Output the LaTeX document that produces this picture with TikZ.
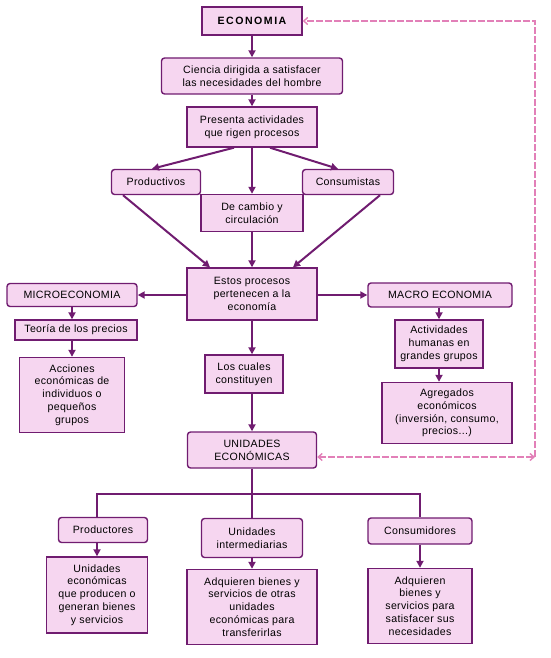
\documentclass[tikz,border=0pt]{standalone}
\usepackage{fontspec}
\setmainfont{Liberation Sans}
\usetikzlibrary{arrows.meta}
\definecolor{morado}{RGB}{112,28,112}
\definecolor{rosafondo}{RGB}{246,214,240}
\definecolor{rosalinea}{RGB}{226,128,184}
\tikzset{every picture/.style={line width=0.75pt}}
\tikzset{
	caja/.style={draw=morado, fill=rosafondo, line width=1.4pt, align=center, inner sep=1pt, font={\fontsize{10.6}{12.8}\selectfont\addfontfeature{LetterSpace=3}}},
	cajar/.style={caja, rounded corners=3pt},
	flecha/.style={draw=morado, line width=2pt, -{Triangle[length=7pt,width=7pt]}},
	rama/.style={draw=morado, line width=1.2pt},
	retorno/.style={draw=rosalinea, line width=1.4pt, dash pattern=on 7pt off 2pt, {Straight Barb[length=4pt,width=7pt]}-{Straight Barb[length=4pt,width=7pt]}}
}

\begin{document}
\begin{tikzpicture}[x=1pt,y=1pt,yscale=-1,xscale=1]
	\useasboundingbox (0,0) rectangle (550,658);
	
	% Nodes
	\node[caja, minimum width=100pt, minimum height=28pt] (eco) at (252,21) {\bfseries\addfontfeature{LetterSpace=14}ECONOMIA};
	\node[cajar, minimum width=181pt, minimum height=36pt] (cien) at (252,76) {Ciencia dirigida a satisfacer\\las necesidades del hombre};
	\node[caja, minimum width=130pt, minimum height=40pt] (pres) at (252,127) {Presenta actividades\\que rigen procesos};
	\node[cajar, minimum width=89pt, minimum height=25pt] (prod) at (156,182) {Productivos};
	\node[cajar, minimum width=91pt, minimum height=25pt] (cons) at (348,182) {Consumistas};
	\node[caja, minimum width=102pt, minimum height=37pt] (camb) at (252,213) {De cambio y\\circulación};
	\node[caja, minimum width=130pt, minimum height=52pt] (estos) at (252,294) {Estos procesos\\pertenecen a la\\economía};
	\node[cajar, minimum width=130pt, minimum height=23pt] (micro) at (72,295) {MICROECONOMIA};
	\node[caja, minimum width=122pt, minimum height=20pt] (teo) at (76,330) {Teoría de los precios};
	\node[caja, minimum width=105pt, minimum height=75pt] (acc) at (72,395) {Acciones\\económicas de\\individuos o\\pequeños\\grupos};
	\node[cajar, minimum width=144pt, minimum height=24pt] (macro) at (440,295) {MACRO ECONOMIA};
	\node[caja, minimum width=88pt, minimum height=48pt] (act) at (439,344) {Actividades\\humanas en\\grandes grupos};
	\node[caja, minimum width=130pt, minimum height=61pt] (agr) at (447,413) {Agregados\\económicos\\(inversión, consumo,\\precios...)};
	\node[caja, minimum width=78pt, minimum height=38pt] (cual) at (244,374) {Los cuales\\constituyen};
	\node[cajar, minimum width=129pt, minimum height=36pt] (unid) at (252,450) {UNIDADES\\ECONÓMICAS};
	\node[cajar, minimum width=89pt, minimum height=25pt] (ptores) at (103,530) {Productores};
	\node[cajar, minimum width=101pt, minimum height=39pt] (inter) at (252,538) {Unidades\\intermediarias};
	\node[cajar, minimum width=104pt, minimum height=26pt] (cdores) at (420,531) {Consumidores};
	\node[caja, minimum width=101pt, minimum height=76pt] (ue) at (97,595) {Unidades\\económicas\\que producen o\\generan bienes\\y servicios};
	\node[caja, minimum width=130pt, minimum height=75pt] (adq) at (252,607) {Adquieren bienes y\\servicios de otras\\unidades\\económicas para\\transferirlas};
	\node[caja, minimum width=104pt, minimum height=75pt] (adqs) at (420,606) {Adquieren\\bienes y\\servicios para\\satisfacer sus\\necesidades};
	
	% Arrows
	\draw[flecha] (eco) -- (cien);
	\draw[flecha] (cien) -- (pres);
	\draw[flecha] ([xshift=-18pt]pres.south) -- ([xshift=-4pt]prod.north);
	\draw[flecha] (pres) -- (camb);
	\draw[flecha] ([xshift=18pt]pres.south) -- ([xshift=-10pt]cons.north);
	\draw[flecha] ([xshift=-33pt]prod.south) -- ([xshift=-42pt]estos.north);
	\draw[flecha] (camb) -- (estos);
	\draw[flecha] ([xshift=32pt]cons.south) -- ([xshift=41pt]estos.north);
	\draw[flecha] (estos.west |- micro.east) -- (micro.east);
	\draw[flecha] (estos.east |- macro.west) -- (macro.west);
	\draw[flecha] (micro) -- (micro |- teo.north);
	\draw[flecha] (teo.south -| acc) -- (acc);
	\draw[flecha] (macro.south -| act) -- (act);
	\draw[flecha] (act) -- (act |- agr.north);
	\draw[flecha] (estos) -- (estos |- cual.north);
	\draw[flecha] (cual.south -| unid) -- (unid);
	\draw[flecha] (ptores.south -| ue) -- (ue);
	\draw[flecha] (inter) -- (adq);
	\draw[flecha] (cdores) -- (adqs);
	
	% Tree
	\coordinate (nudo) at (252,494);
	\draw[rama] (unid) -- (inter);
	\draw[rama] ([xshift=-6pt]ptores.north) |- (nudo) -| (cdores.north);
	
	% Pink return line
	\coordinate (esqa) at (535,457);
	\coordinate (esqb) at (535,21);
	\draw[retorno] (unid.east |- esqa) -- (esqa);
	\draw[retorno, {}-{Straight Barb[length=4pt,width=7pt]}] (esqa) -- (esqb) -- (eco.east);
	
\end{tikzpicture}
\end{document}
